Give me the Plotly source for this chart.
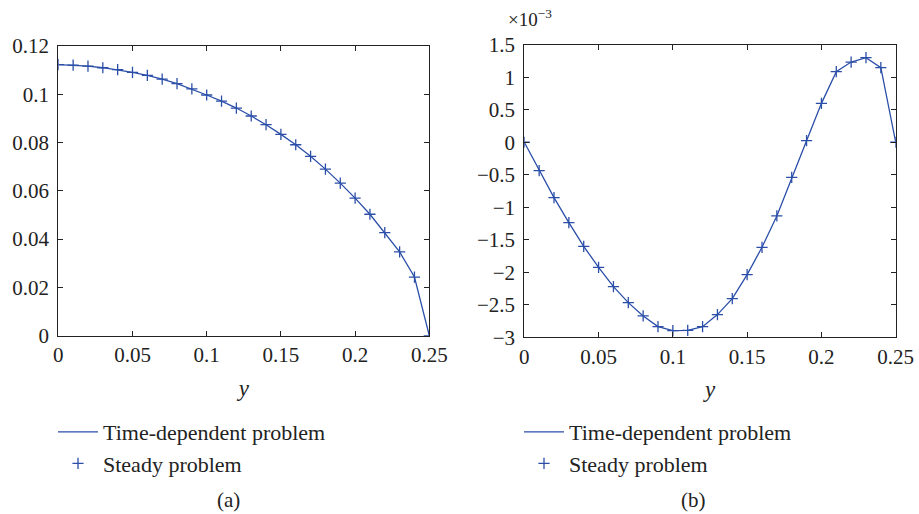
import plotly.graph_objects as go

# ---- data ----
y_grid = [0.00, 0.01, 0.02, 0.03, 0.04, 0.05, 0.06, 0.07, 0.08, 0.09,
          0.10, 0.11, 0.12, 0.13, 0.14, 0.15, 0.16, 0.17, 0.18, 0.19,
          0.20, 0.21, 0.22, 0.23, 0.24, 0.25]

# panel (a)
a_time_dependent = [0.1123, 0.1121, 0.1117, 0.1110, 0.1102, 0.1091, 0.1078, 0.1063,
                    0.1044, 0.1022, 0.0997, 0.0972, 0.0943, 0.0910, 0.0874, 0.0834,
                    0.0791, 0.0743, 0.0690, 0.0632, 0.0570, 0.0503, 0.0427, 0.0347,
                    0.0243, 0.0]
a_steady = a_time_dependent[:]

# panel (b), in units of 1e-3
b_time_dependent = [0.0, -0.437, -0.852, -1.237, -1.601, -1.924, -2.221, -2.467,
                    -2.672, -2.836, -2.897, -2.892, -2.836, -2.651, -2.405, -2.036,
                    -1.616, -1.134, -0.540, 0.024, 0.598, 1.085, 1.233, 1.300,
                    1.146, 0.0]
b_steady = b_time_dependent[:]

x_ticks = [0, 0.05, 0.1, 0.15, 0.2, 0.25]
a_y_ticks = [0, 0.02, 0.04, 0.06, 0.08, 0.1, 0.12]
b_y_ticks = [-3, -2.5, -2, -1.5, -1, -0.5, 0, 0.5, 1, 1.5]

series_names = ["Time-dependent problem", "Steady problem"]
panel_labels = ["(a)", "(b)"]

COLOR = "#2b4ea8"
FONT = "Liberation Serif"
W, H = 919, 514

fig = go.Figure()

marker_style = dict(symbol="cross-thin", size=8, line=dict(color=COLOR, width=1.3))

fig.add_trace(go.Scatter(x=y_grid, y=a_time_dependent, mode="lines",
                         line=dict(color=COLOR, width=1.3), name=series_names[0],
                         xaxis="x", yaxis="y", legend="legend"))
fig.add_trace(go.Scatter(x=y_grid, y=a_steady, mode="markers", marker=marker_style,
                         name=series_names[1], xaxis="x", yaxis="y", legend="legend"))
fig.add_trace(go.Scatter(x=y_grid, y=b_time_dependent, mode="lines",
                         line=dict(color=COLOR, width=1.3), name=series_names[0],
                         xaxis="x2", yaxis="y2", legend="legend2"))
fig.add_trace(go.Scatter(x=y_grid, y=b_steady, mode="markers", marker=marker_style,
                         name=series_names[1], xaxis="x2", yaxis="y2", legend="legend2"))

axis_common = dict(showgrid=False, zeroline=False, showline=True, linecolor="#222",
                   linewidth=1, mirror="ticks", ticks="inside", ticklen=5,
                   tickcolor="#222", automargin=False,
                   tickfont=dict(family=FONT, size=21, color="#222"))

def px_x(p):
    return p / W

def px_y(p):
    return 1 - p / H

legend_common = dict(xanchor="left", yanchor="top", bgcolor="rgba(0,0,0,0)",
                     font=dict(family=FONT, size=22, color="#222"), itemwidth=40)

fig.update_layout(
    width=W, height=H,
    margin=dict(l=0, r=0, t=0, b=0, autoexpand=False),
    paper_bgcolor="white", plot_bgcolor="white",
    font=dict(family=FONT, size=20, color="#222"),
    xaxis=dict(domain=[px_x(58.3), px_x(429.3)], range=[0, 0.25], tickvals=x_ticks,
               anchor="y",
               title=dict(text="<i>y</i>", standoff=13, font=dict(family=FONT, size=23)),
               **axis_common),
    yaxis=dict(domain=[px_y(335.7), px_y(46)], range=[0, 0.12], tickvals=a_y_ticks,
               anchor="x", ticklabelstandoff=4, **axis_common),
    xaxis2=dict(domain=[px_x(524.3), px_x(895.7)], range=[0, 0.25], tickvals=x_ticks,
                anchor="y2",
                title=dict(text="<i>y</i>", standoff=13, font=dict(family=FONT, size=23)),
                **axis_common),
    yaxis2=dict(domain=[px_y(337.3), px_y(44.7)], range=[-3, 1.5], tickvals=b_y_ticks,
                anchor="x2", ticklabelstandoff=4, **axis_common),
    legend=dict(x=px_x(53), y=px_y(411), **legend_common),
    legend2=dict(x=px_x(519), y=px_y(411), **legend_common),
    showlegend=True,
    annotations=[
        dict(text="×10<sup>−3</sup>", x=px_x(506), y=px_y(18), xref="paper", yref="paper",
             xanchor="left", yanchor="middle", showarrow=False,
             font=dict(family=FONT, size=19, color="#222")),
        dict(text=panel_labels[0], x=px_x(228), y=px_y(500), xref="paper", yref="paper",
             xanchor="center", yanchor="middle", showarrow=False,
             font=dict(family=FONT, size=21, color="#222")),
        dict(text=panel_labels[1], x=px_x(693), y=px_y(500), xref="paper", yref="paper",
             xanchor="center", yanchor="middle", showarrow=False,
             font=dict(family=FONT, size=21, color="#222")),
    ],
)

fig.write_html("out.html", config={"displayModeBar": False},
               post_script="document.body.style.margin='0';document.body.style.overflow='hidden';")
